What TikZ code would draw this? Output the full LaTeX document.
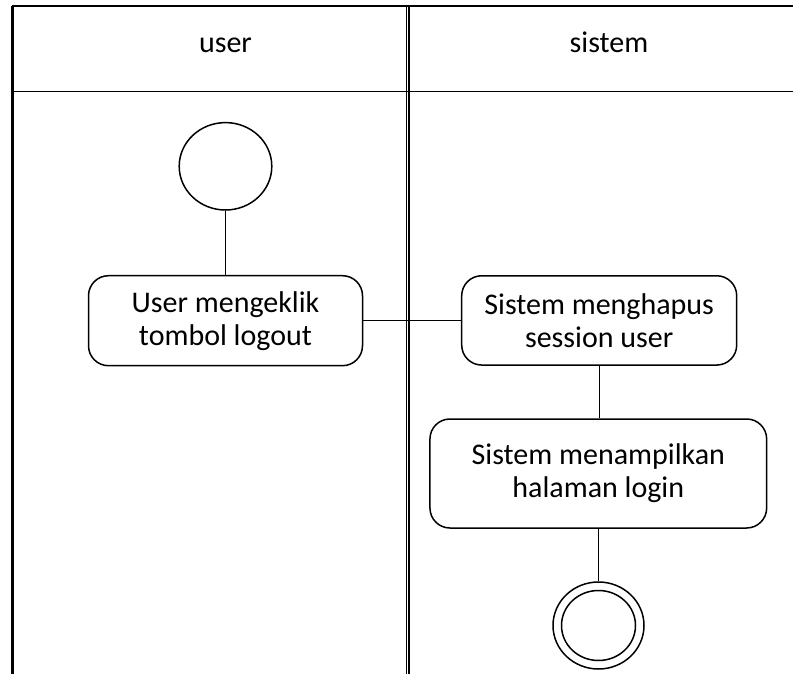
\documentclass[tikz,border=0pt]{standalone}
\usepackage{fontspec}
\setmainfont{Carlito}
\usetikzlibrary{shapes.geometric}
\begin{document}
\begin{tikzpicture}[x=1pt,y=-1pt,
  act/.style={draw, rounded corners=20pt, line width=1.5pt, align=center,
    font=\fontsize{30}{33}\selectfont, inner sep=0pt},
  lane/.style={line width=1.8pt},
  hdr/.style={font=\fontsize{30}{33}\selectfont, anchor=base, inner sep=0pt},
  flow/.style={line width=1.4pt},
  startnode/.style={draw, ellipse, line width=1.5pt, inner sep=0pt},
]
\useasboundingbox (0,0) rectangle (793,674);
% swimlanes
\draw[line width=2.2pt] (12.5,6) -- (12.5,674);
\draw[lane] (12,6) -- (793,6);
\draw[lane] (12,91.5) -- (793,91.5);
\draw[line width=1.5pt] (406.3,6) -- (406.3,674);
\draw[line width=1.5pt] (408.8,6) -- (408.8,674);
\node[hdr] (huser) at (225.5,52.5) {user};
\node[hdr] (hsis) at (609,52.5) {sistem};
% nodes
\node[startnode, minimum width=92.6pt, minimum height=87.4pt] (start) at (225.5,166.3) {};
\node[act, minimum width=274pt, minimum height=90pt] (a1) at (225.5,320.7) {User mengeklik\\tombol logout};
\node[act, minimum width=275pt, minimum height=89.3pt] (a2) at (599.2,320.4) {Sistem menghapus\\session user};
\node[act, minimum width=336.7pt, minimum height=109pt] (a3) at (598.3,473.5) {Sistem menampilkan\\halaman login};
\node[startnode, minimum width=91pt, minimum height=87pt] (endo) at (598.5,625.5) {};
\node[startnode, minimum width=74pt, minimum height=70pt] (endi) at (598.5,625.5) {};
% connectors
\draw[flow] (start.south) -- (a1.north);
\draw[flow] (a1.east) -- (a1.east -| a2.west);
\draw[flow] (a2.south) -- (a2.south |- a3.north);
\draw[flow] (endo.north |- a3.south) -- (endo.north);
\end{tikzpicture}
\end{document}
